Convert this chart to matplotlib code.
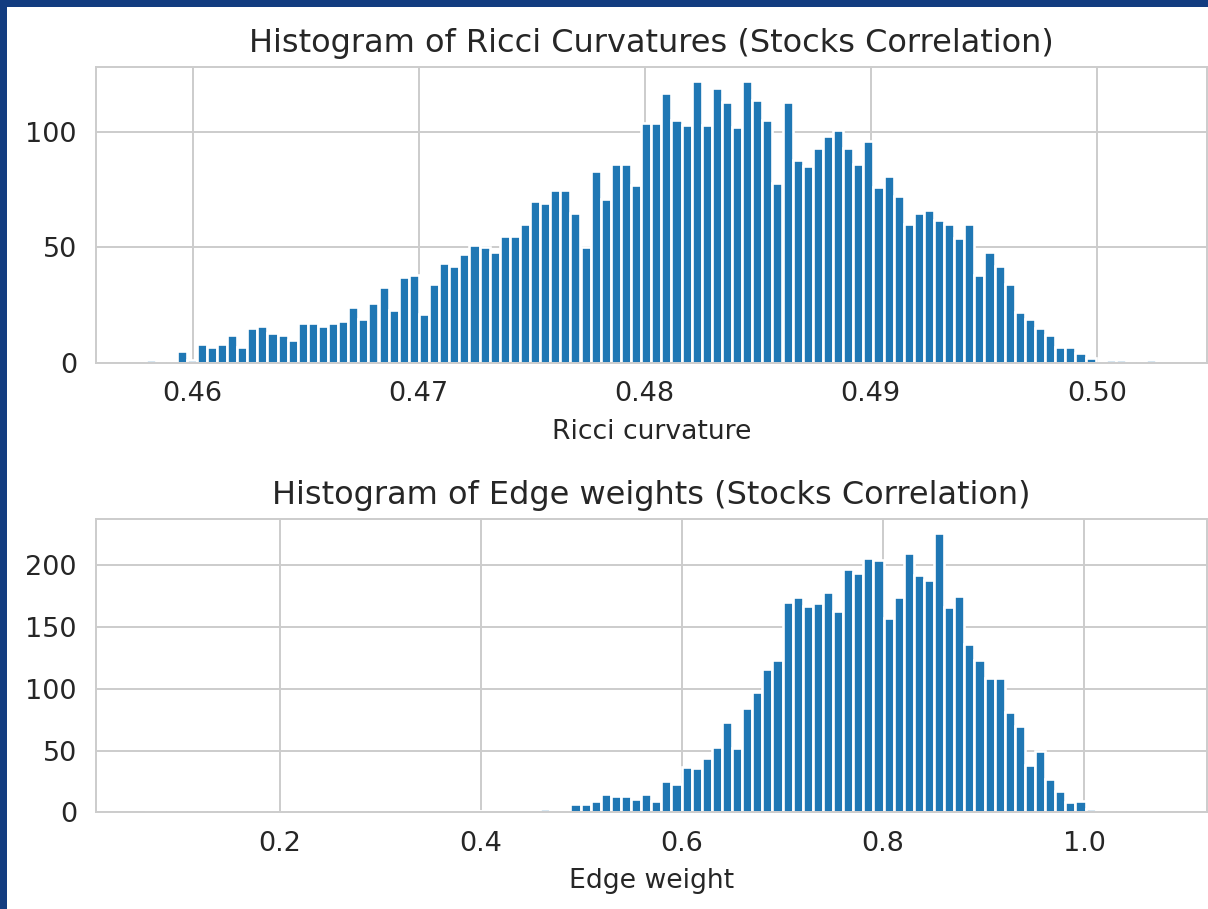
import numpy as np
import matplotlib
matplotlib.use("Agg")
import matplotlib.pyplot as plt
from matplotlib.patches import Rectangle
from matplotlib.ticker import FormatStrFormatter
import seaborn as sns

# Ricci curvature histogram: data range and counts for 100 equal bins
ricci_range = (0.45794, 0.50263)
ricci_counts = [
    1, 0, 0, 5, 1, 8, 7, 8, 12, 7,
    15, 16, 13, 12, 10, 17, 17, 16, 17, 18,
    24, 19, 26, 33, 23, 37, 38, 21, 34, 43,
    42, 47, 51, 50, 48, 55, 55, 60, 70, 69,
    75, 75, 65, 50, 83, 71, 86, 86, 77, 104,
    104, 117, 105, 103, 122, 103, 119, 113, 102, 122,
    114, 105, 78, 113, 88, 85, 93, 98, 101, 93,
    86, 96, 76, 81, 72, 60, 65, 66, 62, 60,
    54, 60, 38, 48, 42, 34, 22, 19, 15, 12,
    7, 7, 4, 2, 0, 1, 1, 0, 0, 1,
]
ricci_xticks = [0.46, 0.47, 0.48, 0.49, 0.50]
ricci_yticks = [0, 50, 100]

# Edge weight histogram: data range and counts for 100 equal bins
weight_range = (0.0674, 1.0714)
weight_counts = [
    1, 0, 0, 0, 0, 0, 0, 0, 0, 0,
    0, 0, 0, 0, 0, 0, 0, 0, 0, 0,
    0, 0, 0, 0, 0, 0, 0, 0, 0, 0,
    1, 0, 1, 1, 0, 1, 1, 1, 1, 3,
    1, 1, 7, 7, 9, 15, 13, 13, 11, 15,
    9, 25, 23, 37, 36, 44, 53, 73, 52, 84,
    97, 116, 123, 170, 174, 167, 169, 178, 163, 197,
    194, 206, 204, 157, 174, 210, 192, 188, 226, 166,
    175, 136, 123, 109, 109, 81, 70, 38, 50, 27,
    17, 8, 9, 3, 1, 0, 0, 0, 1, 1,
]
weight_xticks = [0.2, 0.4, 0.6, 0.8, 1.0]
weight_yticks = [0, 50, 100, 150, 200]

sns.set_style("whitegrid")
plt.rcParams["font.family"] = ["DejaVu Sans"]
plt.rcParams["grid.linewidth"] = 1.4
plt.rcParams["axes.linewidth"] = 1.4

TEXT = "0.15"
BAR = "#1f77b4"

fig = plt.figure(figsize=(12.08, 9.09), dpi=100, facecolor="#133c80")
W, H = 1208, 909
fig.add_artist(Rectangle((7 / W, 0), 1 - 7 / W, 1 - 7 / H,
                         transform=fig.transFigure, facecolor="white",
                         edgecolor="none", zorder=-10))


def draw_hist(ax, rng, counts, xticks, yticks, fmt, title, xlabel):
    edges = np.linspace(rng[0], rng[1], len(counts) + 1)
    ax.hist(edges[:-1], bins=edges, weights=counts, color=BAR,
            edgecolor="white", linewidth=1.9)
    ax.set_xticks(xticks)
    ax.set_yticks(yticks)
    ax.xaxis.set_major_formatter(FormatStrFormatter(fmt))
    ax.tick_params(axis="both", labelsize=19.5, colors=TEXT, pad=10)
    ax.set_title(title, fontsize=23, color=TEXT, pad=11)
    ax.set_xlabel(xlabel, fontsize=19.2, color=TEXT, labelpad=8)
    for s in ax.spines.values():
        s.set_color("0.8")


ax1 = fig.add_axes([95.7 / W, 1 - 362.7 / H, 1111 / W, 295.7 / H])
draw_hist(ax1, ricci_range, ricci_counts, ricci_xticks, ricci_yticks, "%.2f",
          "Histogram of Ricci Curvatures (Stocks Correlation)", "Ricci curvature")

ax2 = fig.add_axes([95.7 / W, 1 - 812.3 / H, 1111 / W, 293.3 / H])
draw_hist(ax2, weight_range, weight_counts, weight_xticks, weight_yticks, "%.1f",
          "Histogram of Edge weights (Stocks Correlation)", "Edge weight")

fig.savefig("out.png", dpi=100, facecolor=fig.get_facecolor())
